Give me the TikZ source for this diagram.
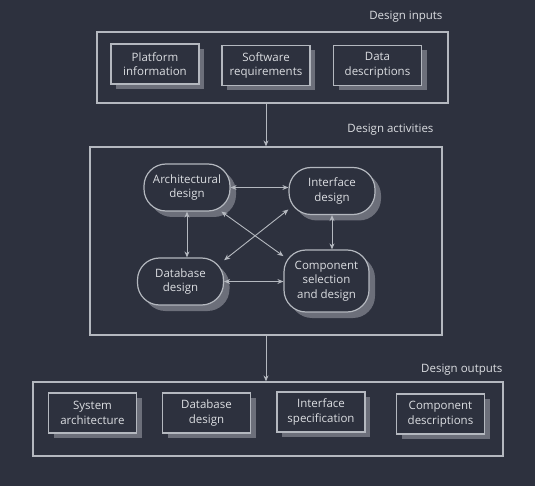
\documentclass[tikz,border=0pt]{standalone}
\usepackage{xcolor}
\usepackage{fontspec}
\setmainfont{Open Sans}
\usepackage{tikz}
\usetikzlibrary{shadows,arrows.meta}
\definecolor{bgcol}{HTML}{2D313E}
\definecolor{linecol}{HTML}{B4B8BF}
\definecolor{txtcol}{HTML}{DCDEE2}
\definecolor{shadecol}{HTML}{6C6F7A}

\begin{document}
\begin{tikzpicture}[x=1pt,y=-1pt,
    every node/.style={text=txtcol, font=\fontsize{11.5}{14.5}\selectfont},
    frame/.style={draw=linecol, line width=1.2pt, inner sep=0pt},
    docbox/.style={draw=linecol, line width=1.2pt, fill=bgcol, align=center,
      minimum width=88pt, minimum height=40pt, inner sep=0pt,
      drop shadow={shadow xshift=5pt, shadow yshift=-5pt, fill=shadecol, opacity=1}},
    activity/.style={docbox, rounded corners=22pt, minimum width=86pt, minimum height=47pt,
      drop shadow={shadow xshift=6pt, shadow yshift=-6pt, fill=shadecol, opacity=1}},
    arr/.style={draw=linecol, line width=0.9pt, -{Stealth[length=6pt,width=5pt]}},
    darr/.style={arr, {Stealth[length=6pt,width=5pt]}-{Stealth[length=6pt,width=5pt]}}]
    \fill[bgcol] (0,0) rectangle (535,486);
    \useasboundingbox (0,0) rectangle (535,486);

    % inputs
    \node[frame, minimum width=351pt, minimum height=71pt] (inputs) at (272.5,67.5) {};
    \node[anchor=east] (inlabel) at (446,17) {Design inputs};
    \node[docbox] (platform) at (155,64) {Platform\\information};
    \node[docbox] (softreq) at (266,65.5) {Software\\requirements};
    \node[docbox] (datadesc) at (377.5,65.5) {Data\\descriptions};

    % activities
    \node[frame, minimum width=352pt, minimum height=188pt] (act) at (266,241) {};
    \node[anchor=east] (actlabel) at (437,130) {Design activities};
    \node[activity] (arch) at (187,187.5) {Architectural\\design};
    \node[activity] (intf) at (332,191) {Interface\\design};
    \node[activity] (db) at (180.5,281.5) {Database\\design};
    \node[activity, minimum width=85pt, minimum height=62pt] (comp) at (326.5,281) {Component\\selection\\and design};

    \draw[darr] (arch.east) -- (arch.east -| intf.west);
    \draw[darr] (arch.south) -- (arch.south |- db.north);
    \draw[darr] (intf.south) -- (intf.south |- comp.north);
    \draw[darr] (db.east) -- (db.east -| comp.west);
    \draw[darr] (arch.-35) -- (comp.150);
    \draw[darr] (intf.-157) -- (db.26);

    % outputs
    \node[frame, minimum width=470pt, minimum height=74pt] (outputs) at (268,419) {};
    \node[anchor=east] (outlabel) at (506,370) {Design outputs};
    \node[docbox] (sysarch) at (92.5,413) {System\\architecture};
    \node[docbox] (dbdes) at (206.5,413) {Database\\design};
    \node[docbox] (ifspec) at (321,412) {Interface\\specification};
    \node[docbox] (compdesc) at (440.5,414) {Component\\descriptions};

    \draw[arr] (inputs.south -| act.north) -- (act.north);
    \draw[arr] (act.south) -- (act.south |- outputs.north);
\end{tikzpicture}
\end{document}
